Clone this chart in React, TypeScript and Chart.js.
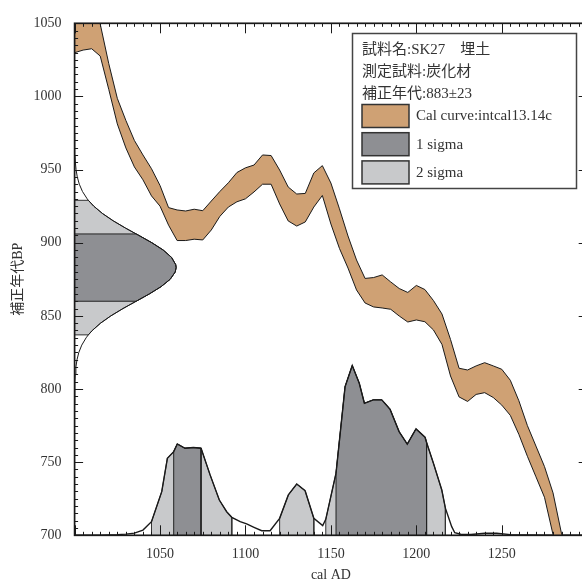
import React, { useEffect, useRef } from 'react';
import { Chart, registerables } from 'chart.js';

Chart.register(...registerables);

const FONT = "'Liberation Serif', 'Noto Sans CJK JP', serif";
const CAL_COLOR = '#CFA174';
const SIG1_COLOR = '#8E8F93';
const SIG2_COLOR = '#C8C9CB';
const INK = '#1a1a1a';

// Calibration curve (intcal13) band, cal AD vs BP
const curveYears = [
  1000, 1005, 1010, 1015, 1020, 1025, 1030, 1035, 1040, 1045, 1050, 1055, 1060, 1065, 1070,
  1075, 1080, 1085, 1090, 1095, 1100, 1105, 1110, 1115, 1120, 1125, 1130, 1135, 1140, 1145,
  1150, 1155, 1160, 1165, 1170, 1175, 1180, 1185, 1190, 1195, 1200, 1205, 1210, 1215, 1220,
  1225, 1230, 1235, 1240, 1245, 1250, 1255, 1260, 1265, 1270, 1275, 1280, 1285, 1290,
];
const curveUpper = [
  1068, 1064, 1058, 1049.5, 1022.4, 998.7, 983.6, 969.9, 960.0, 950.6, 939.1, 924.0, 922.4, 921.7, 922.9,
  921.9, 928.5, 935.0, 941.0, 948.0, 951.2, 953.1, 960.0, 959.6, 949.7, 938.1, 933.3, 933.7, 947.7, 952.7,
  940.8, 923.2, 904.6, 888.2, 875.6, 876.2, 878.0, 873.2, 868.7, 866.0, 870.8, 868.0, 860.5, 851.3, 833.9,
  814.2, 813.0, 815.8, 818.0, 815.8, 813.5, 806.0, 792.0, 775.0, 761.0, 747.0, 729.0, 701.0, 685.0,
];
const curveLower = [
  1029.9, 1031.7, 1032.6, 1027.6, 1004.8, 981.2, 964.8, 951.8, 943.0, 932.0, 925.0, 912.0, 901.5, 901.5, 902.4,
  901.9, 908.7, 918.0, 924.4, 928.0, 930.0, 934.7, 940.0, 940.0, 926.5, 914.9, 911.4, 914.2, 924.4, 932.3,
  912.8, 896.1, 882.7, 867.7, 858.8, 856.1, 855.4, 854.5, 849.9, 845.8, 847.2, 846.0, 840.4, 830.5, 808.9,
  794.6, 791.5, 796.3, 797.5, 794.2, 789.0, 782.0, 769.0, 754.0, 740.0, 726.0, 700.5, 685.0, 675.0,
];

// Calibrated probability (relative, peak = 100) vs cal AD
const probYears = [
  1000, 1015, 1025, 1030, 1035, 1040, 1045, 1051, 1054.3, 1058, 1060.1, 1064.6, 1069.5, 1074, 1079.3,
  1084.7, 1089, 1092, 1096.9, 1100.7, 1105, 1109.5, 1114.4, 1120, 1125.1, 1130, 1134.9, 1140, 1145.2, 1147,
  1153, 1158.3, 1162.5, 1166.6, 1169.6, 1174.8, 1179.8, 1184.6, 1189.9, 1194.7, 1199.8, 1205.1, 1206, 1210,
  1214.9, 1217, 1220.7, 1222.5, 1226, 1232, 1240, 1247, 1255, 1265, 1280, 1300,
];
const probValues = [
  0, 0.1, 0.4, 0.7, 1.3, 3.1, 8.0, 25.7, 45.4, 49.3, 53.8, 51.3, 51.7, 51.3, 35.6,
  20.8, 13.9, 10.6, 8.0, 6.7, 4.7, 2.7, 2.7, 10.0, 23.8, 30.2, 26.3, 10.0, 5.7, 9.4,
  36.6, 87.6, 100, 89.6, 77.8, 79.8, 79.8, 74.3, 61.1, 53.7, 62.7, 57.8, 54.7, 42.5,
  26.7, 16.0, 5.1, 1.5, 0.6, 0.5, 1.2, 1.2, 0.4, 0.2, 0.1, 0,
];
const sigma1Years = [[1058, 1074], [1153, 1206]];
const sigma2Years = [[1045, 1092], [1120, 1140], [1147, 1217]];

// Measured age distribution 883 ± 23 BP (relative, peak = 100)
const ageBP = [
  790, 795, 800, 805, 810, 815, 820, 825, 830, 835, 837, 840, 845, 850, 855, 860, 865, 870, 875, 880,
  883, 885, 890, 895, 900, 905, 906, 910, 915, 920, 925, 929, 930, 935, 940, 945, 950, 955, 960, 965, 970, 975,
];
const ageDensity = [
  0.03, 0.07, 0.15, 0.32, 0.65, 1.26, 2.35, 4.16, 7.03, 11.33, 13.53, 17.41, 25.54, 35.73, 47.67, 60.65, 73.62, 85.24, 94.13, 99.15,
  100, 99.62, 95.47, 87.28, 76.09, 63.29, 60.65, 50.21, 37.99, 27.42, 18.88, 13.53, 12.40, 7.76, 4.64, 2.64, 1.44, 0.74, 0.37, 0.17, 0.08, 0.03,
];
const sigma1BP = [860, 906];
const sigma2BP = [837, 929];

const X_MIN = 1000, X_MAX = 1300, X_STEP = 50, X_MINOR = 5;
const Y_MIN = 700, Y_MAX = 1050, Y_STEP = 50, Y_MINOR = 5;
const PROB_PEAK_BP = 116; // height of probability peak in BP units
const AGE_PEAK_YEARS = 59.4; // width of age-distribution peak in years

const infoLines = ['試料名:SK27　埋土', '測定試料:炭化材', '補正年代:883±23'];
const legendItems = [
  { label: 'Cal curve:intcal13.14c', color: CAL_COLOR },
  { label: '1 sigma', color: SIG1_COLOR },
  { label: '2 sigma', color: SIG2_COLOR },
];

const CANVAS_W = 600;
const CANVAS_H = 581;

function probPoint(i: number) {
  return { x: probYears[i], y: Y_MIN + (probValues[i] / 100) * PROB_PEAK_BP };
}
function agePoint(i: number) {
  return { x: X_MIN + (ageDensity[i] / 100) * AGE_PEAK_YEARS, y: ageBP[i] };
}
function probRegion([a, b]: number[]) {
  const pts: { x: number; y: number }[] = [{ x: a, y: Y_MIN }];
  probYears.forEach((yr, i) => {
    if (yr >= a && yr <= b) pts.push(probPoint(i));
  });
  pts.push({ x: b, y: Y_MIN });
  return pts;
}
function ageRegion([a, b]: number[]) {
  const pts: { x: number; y: number }[] = [{ x: X_MIN, y: a }];
  ageBP.forEach((bp, i) => {
    if (bp >= a && bp <= b) pts.push(agePoint(i));
  });
  pts.push({ x: X_MIN, y: b });
  return pts;
}

const framePlugin = {
  id: 'frameAndLegend',
  afterDatasetsDraw(chart: any) {
    const { ctx, chartArea } = chart;
    const { left, right, top, bottom } = chartArea;
    const xs = chart.scales.x;
    const ys = chart.scales.y;
    ctx.save();
    ctx.strokeStyle = INK;
    ctx.lineWidth = 1;
    ctx.beginPath();
    for (let v = X_MIN; v <= X_MAX; v += X_MINOR) {
      const px = Math.round(xs.getPixelForValue(v)) + 0.5;
      const len = v % X_STEP === 0 ? 10 : 3.5;
      ctx.moveTo(px, bottom);
      ctx.lineTo(px, bottom - len);
      ctx.moveTo(px, top);
      ctx.lineTo(px, top + len);
    }
    for (let v = Y_MIN; v <= Y_MAX; v += Y_MINOR) {
      const py = Math.round(ys.getPixelForValue(v)) + 0.5;
      const len = v % Y_STEP === 0 ? 8.5 : 3.5;
      ctx.moveTo(left, py);
      ctx.lineTo(left + len, py);
      ctx.moveTo(right, py);
      ctx.lineTo(right - len, py);
    }
    ctx.stroke();
    ctx.lineWidth = 1.7;
    ctx.strokeRect(left, top, right - left, bottom - top);

    // legend / info box
    const bx = 352.5, by = 33.5, bw = 224, bh = 155;
    ctx.fillStyle = '#ffffff';
    ctx.fillRect(bx, by, bw, bh);
    ctx.lineWidth = 1.5;
    ctx.strokeStyle = '#444';
    ctx.strokeRect(bx, by, bw, bh);
    ctx.fillStyle = '#333';
    ctx.font = `15px ${FONT}`;
    ctx.textAlign = 'left';
    ctx.textBaseline = 'middle';
    infoLines.forEach((t, i) => {
      ctx.fillText(t, bx + 9.5, by + 16.5 + i * 22);
    });
    legendItems.forEach((it, i) => {
      const sy = by + 71 + i * 28.2;
      ctx.fillStyle = it.color;
      ctx.fillRect(bx + 9.5, sy, 47, 23);
      ctx.strokeStyle = '#333';
      ctx.lineWidth = 1.5;
      ctx.strokeRect(bx + 9.5, sy, 47, 23);
      ctx.fillStyle = '#333';
      ctx.fillText(it.label, bx + 63.5, sy + 12);
    });
    ctx.restore();
  },
};

export default function App() {
  const ref = useRef<HTMLCanvasElement | null>(null);

  useEffect(() => {
    if (!ref.current) return;
    const lineBase = { pointRadius: 0, pointHoverRadius: 0, tension: 0 };
    const datasets: any[] = [];

    sigma2Years.forEach((r) =>
      datasets.push({ ...lineBase, data: probRegion(r), fill: 'shape', backgroundColor: SIG2_COLOR, borderColor: '#333', borderWidth: 1 })
    );
    sigma1Years.forEach((r) =>
      datasets.push({ ...lineBase, data: probRegion(r), fill: 'shape', backgroundColor: SIG1_COLOR, borderColor: '#222', borderWidth: 1 })
    );
    datasets.push({ ...lineBase, data: probYears.map((_, i) => probPoint(i)), fill: false, borderColor: INK, borderWidth: 1.4 });

    datasets.push({ ...lineBase, data: ageRegion(sigma2BP), fill: 'shape', backgroundColor: SIG2_COLOR, borderColor: '#333', borderWidth: 1 });
    datasets.push({ ...lineBase, data: ageRegion(sigma1BP), fill: 'shape', backgroundColor: SIG1_COLOR, borderColor: '#222', borderWidth: 1 });
    datasets.push({ ...lineBase, data: ageBP.map((_, i) => agePoint(i)), fill: false, borderColor: INK, borderWidth: 1 });

    datasets.push({
      ...lineBase,
      data: curveYears.map((x, i) => ({ x, y: curveUpper[i] })),
      fill: '+1',
      backgroundColor: CAL_COLOR,
      borderColor: INK,
      borderWidth: 1,
    });
    datasets.push({
      ...lineBase,
      data: curveYears.map((x, i) => ({ x, y: curveLower[i] })),
      fill: false,
      borderColor: INK,
      borderWidth: 1,
    });
    const n = datasets.length;
    datasets.forEach((d, i) => (d.order = n - i));

    const chart = new Chart(ref.current, {
      type: 'line',
      data: { datasets },
      plugins: [framePlugin],
      options: {
        responsive: false,
        maintainAspectRatio: false,
        animation: false,
        events: [],
        layout: { padding: { left: 0, top: 23.3, right: CANVAS_W - 587.2, bottom: 0 } },
        plugins: { legend: { display: false }, tooltip: { enabled: false } },
        scales: {
          x: {
            type: 'linear',
            min: X_MIN,
            max: X_MAX,
            afterFit: (s: any) => {
              s.height = CANVAS_H - 535.3;
            },
            grid: { display: false, drawTicks: false },
            border: { display: false },
            ticks: {
              stepSize: X_STEP,
              padding: 10.5,
              autoSkip: false,
              maxRotation: 0,
              color: '#333',
              font: { family: FONT, size: 14 },
              callback: (v: any) => (v > X_MIN && v < X_MAX ? String(v) : ''),
            },
            title: {
              display: true,
              text: 'cal AD',
              color: '#333',
              font: { family: FONT, size: 14, lineHeight: 0.8 },
              padding: { top: 0, bottom: 0 },
            },
          },
          y: {
            type: 'linear',
            min: Y_MIN,
            max: Y_MAX,
            afterFit: (s: any) => {
              s.width = 74.6;
            },
            grid: { display: false, drawTicks: false },
            border: { display: false },
            ticks: {
              stepSize: Y_STEP,
              padding: 13,
              color: '#333',
              font: { family: FONT, size: 14 },
              callback: (v: any) => String(v),
            },
            title: {
              display: true,
              text: '補正年代BP',
              color: '#333',
              font: { family: FONT, size: 14 },
              padding: { top: 10, bottom: 0 },
            },
          },
        },
      },
    });
    return () => chart.destroy();
  }, []);

  return (
    <div style={{ position: 'fixed', left: 0, top: 0, width: 582, height: 581, overflow: 'hidden', background: '#fff' }}>
      <canvas ref={ref} width={CANVAS_W} height={CANVAS_H} style={{ width: CANVAS_W, height: CANVAS_H, display: 'block' }} />
    </div>
  );
}
